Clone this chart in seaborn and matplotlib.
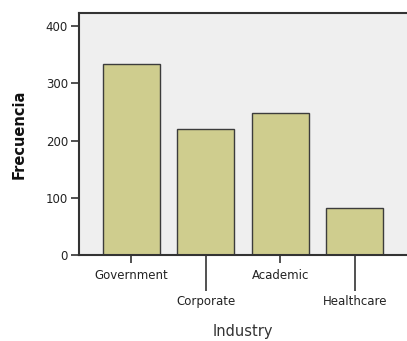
import matplotlib
matplotlib.use("Agg")
import matplotlib.pyplot as plt
import seaborn as sns
import pandas as pd

categories = ["Government", "Corporate", "Academic", "Healthcare"]
counts = [333, 221, 249, 82]
yticks = [0, 100, 200, 300, 400]

df = pd.DataFrame({"Industry": categories, "Frecuencia": counts})

sns.set_style("white")
plt.rcParams["font.family"] = ["DejaVu Sans"]

fig = plt.figure(figsize=(4.07, 3.41), dpi=100)
ax = fig.add_axes([79/407, 1-255/341, 1-79/407, (255-13)/341])
ax.set_facecolor("#efefef")

sns.barplot(data=df, x="Industry", y="Frecuencia", order=categories,
            color="#cfcd8e", edgecolor="#3c3c3c", linewidth=1.0,
            width=0.76, saturation=1, ax=ax)

ax.set_xlim(-0.7, 3.7)
ax.set_ylim(0, 423)
ax.set_yticks(yticks)
ax.set_yticklabels([str(v) for v in yticks], fontsize=8.5, color="#222222")

ax.set_xticks([0, 2], [categories[0], categories[2]])
ax.set_xticks([1, 3], [categories[1], categories[3]], minor=True)
ax.tick_params(axis="x", which="major", length=6, width=1.2, color="#333333",
               pad=4, labelsize=8.5, labelcolor="#222222", direction="out", bottom=True)
ax.tick_params(axis="x", which="minor", length=26, width=1.2, color="#333333",
               pad=3, labelsize=8.5, labelcolor="#222222", direction="out", bottom=True)
ax.tick_params(axis="y", length=6, width=1.2, color="#333333", pad=2, left=True, direction="out")

for s in ["left", "top", "bottom"]:
    ax.spines[s].set_color("#333333")
    ax.spines[s].set_linewidth(1.5)
ax.spines["right"].set_visible(False)

ax.set_xlabel("Industry", fontsize=10.5, color="#333333", labelpad=11.5)
ax.set_ylabel("Frecuencia", fontsize=10.5, fontweight="bold", color="#111111", labelpad=14)

fig.savefig("out.png", dpi=100)
